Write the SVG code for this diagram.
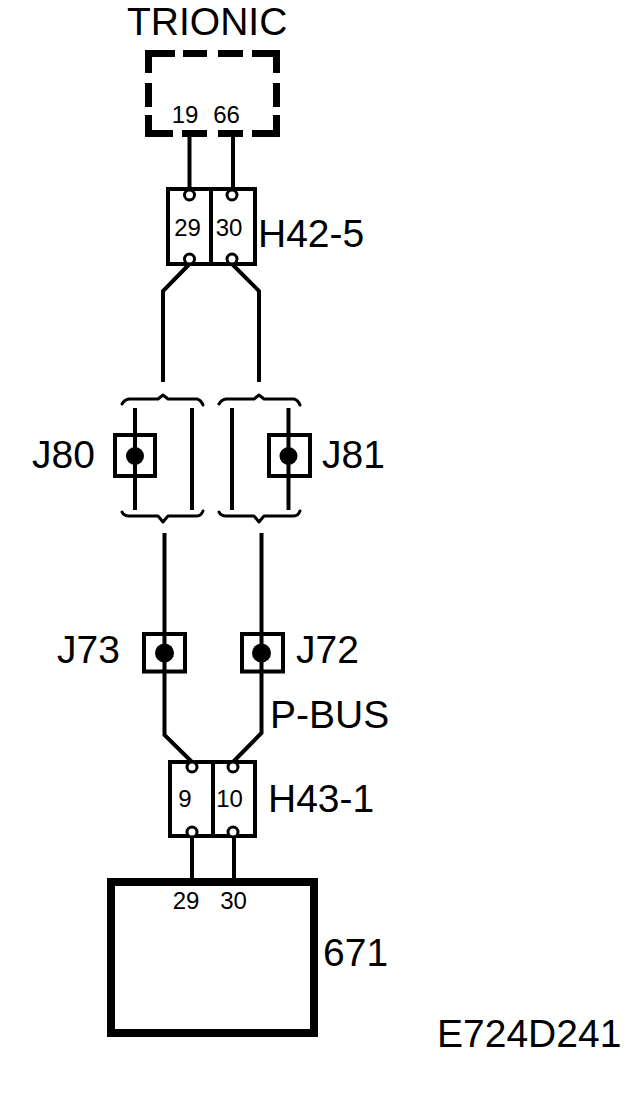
<svg xmlns="http://www.w3.org/2000/svg" width="640" height="1094" viewBox="0 0 640 1094">
<style>
.lbl{font-family:"Liberation Sans",Arial,sans-serif;fill:#000;font-size:39px}
.pin{font-family:"Liberation Sans",Arial,sans-serif;fill:#000;font-size:24px;text-anchor:middle}
.w{stroke:#000;stroke-width:4;fill:none}
.dash{stroke:#000;stroke-width:7;fill:none;stroke-linejoin:miter}
.box{stroke:#000;stroke-width:4;fill:none}
.term{stroke:#000;stroke-width:3;fill:#fff}
.brace{stroke:#000;stroke-width:3;fill:none;stroke-linejoin:round;stroke-linecap:round}
</style>
<rect width="640" height="1094" fill="#fff"/>
<g id="connectors">
<path class="w" d="M189.5,134 V189"/>
<path class="w" d="M233,134 V189"/>
<path class="w" d="M189.5,264 L163,291 V382"/>
<path class="w" d="M232,264 L259,291 V382"/>
<path class="w" d="M135,408 V510"/>
<path class="w" d="M192,408 V510" stroke-width="4.5"/>
<path class="w" d="M232,408 V510" stroke-width="4.5"/>
<path class="w" d="M288.5,408 V510"/>
<path class="w" d="M164.5,533 V735 L192,762"/>
<path class="w" d="M261.5,533 V733 L233,762"/>
<path class="w" d="M192,837 V879"/>
<path class="w" d="M234,837 V879"/>
</g>
<g id="trionic">
<text class="lbl" x="127" y="35" font-size="38">TRIONIC</text>
<path class="dash" d="M148.5,73 V53.5 H175 M183,53.5 H207 M218,53.5 H243 M252,53.5 H276.5 V73 M148.5,83 V107 M276.5,83 V107 M148.5,115 V133.5 H173 M182,133.5 H207 M218,133.5 H243 M252,133.5 H276.5 V115"/>
<text class="pin" x="185" y="123" font-size="23">19</text>
<text class="pin" x="226.5" y="123" font-size="23">66</text>
</g>
<g id="H42-5">
<rect class="box" x="168" y="189" width="87" height="75" stroke-width="3.5"/>
<line class="box" x1="211" y1="189" x2="211" y2="264" stroke-width="3.5"/>
<circle class="term" cx="189.5" cy="195" r="5"/>
<circle class="term" cx="232" cy="195" r="5"/>
<circle class="term" cx="189.5" cy="259" r="5"/>
<circle class="term" cx="232" cy="259" r="5"/>
<text class="pin" x="187.5" y="236">29</text>
<text class="pin" x="229" y="236">30</text>
<text class="lbl" x="258" y="247">H42-5</text>
</g>
<g id="J80">
<path class="brace" d="M122,404 Q124,400 129,399 H158 L163,395 L168,399 H197 Q201,400 203,405"/>
<path class="brace" d="M122,512 Q124,516 129,516 H158 L163,522 L168,516 H197 Q201,516 203,511"/>
<rect class="box" x="115" y="435" width="40" height="41"/>
<circle cx="135" cy="456" r="9" fill="#000"/>
<text class="lbl" x="32" y="468" font-size="40">J80</text>
</g>
<g id="J81">
<path class="brace" d="M219,404 Q221,400 226,399 H254 L259,395 L264,399 H294 Q298,400 300,405"/>
<path class="brace" d="M219,512 Q221,516 226,516 H254 L259,522 L264,516 H294 Q298,516 300,511"/>
<rect class="box" x="269" y="435" width="41" height="41"/>
<circle cx="288.5" cy="456" r="9" fill="#000"/>
<text class="lbl" x="322" y="468" font-size="40">J81</text>
</g>
<g id="J73">
<rect class="box" x="144" y="634" width="41" height="37.5"/>
<circle cx="164.5" cy="653" r="9.5" fill="#000"/>
<text class="lbl" x="57" y="663" font-size="40">J73</text>
</g>
<g id="J72">
<rect class="box" x="242" y="634" width="41" height="37.5"/>
<circle cx="261.5" cy="653" r="9.5" fill="#000"/>
<text class="lbl" x="296" y="663" font-size="40">J72</text>
</g>
<g id="pbus">
<text class="lbl" x="270" y="728">P-BUS</text>
</g>
<g id="H43-1">
<rect class="box" x="170" y="762" width="85" height="74"/>
<line class="box" x1="213" y1="762" x2="213" y2="836" stroke-width="3.5"/>
<circle class="term" cx="192" cy="767" r="5"/>
<circle class="term" cx="233" cy="767" r="5"/>
<circle class="term" cx="192" cy="832" r="5"/>
<circle class="term" cx="233" cy="832" r="5"/>
<text class="pin" x="185" y="807">9</text>
<text class="pin" x="229.5" y="807">10</text>
<text class="lbl" x="268" y="812">H43-1</text>
</g>
<g id="m671">
<rect x="111" y="882" width="203" height="151" fill="none" stroke="#000" stroke-width="8"/>
<text class="pin" x="186" y="909">29</text>
<text class="pin" x="233.5" y="909">30</text>
<text class="lbl" x="323" y="966">671</text>
</g>
<g id="code">
<text class="lbl" x="437" y="1047" font-size="35">E724D241</text>
</g>
</svg>
